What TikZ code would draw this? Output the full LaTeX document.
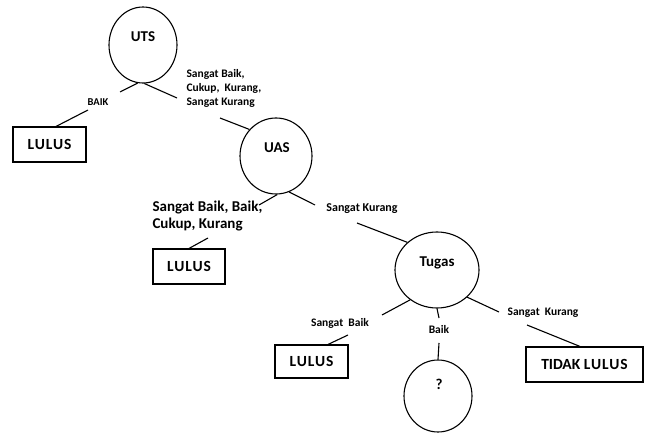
\documentclass[tikz,border=0pt]{standalone}
\usepackage{fontspec}
\setmainfont{Carlito}
\usetikzlibrary{shapes.geometric}
\newcommand{\lulusword}{L\kern0.8pt U\kern0.8pt L\kern0.8pt U\kern0.8pt S}
\begin{document}
\begin{tikzpicture}[x=1pt,y=-1pt,
  every path/.style={line width=1.1pt},
  circ/.style={draw,ellipse,inner sep=0pt},
  box/.style={draw,rectangle,inner sep=0pt,font=\fontsize{15.5}{17}\selectfont\bfseries},
  ntext/.style={font=\fontsize{15}{17}\selectfont\bfseries,inner sep=0pt},
  lbl/.style={font=\fontsize{11.5}{14}\selectfont\bfseries,inner sep=0pt,align=left},
  big/.style={font=\fontsize{15}{17}\selectfont\bfseries,inner sep=0pt,align=left}]
\useasboundingbox (0,0) rectangle (650,435);
% circles
\node[circ,minimum width=68pt,minimum height=76pt] (uts) at (143,45) {};
\node[ntext] (utst) at (143,37) {UTS};
\node[circ,minimum width=72pt,minimum height=76pt] (uas) at (276,156) {};
\node[ntext] (uast) at (277,148) {UAS};
\node[circ,minimum width=84pt,minimum height=76pt] (tugas) at (437,270) {};
\node[ntext] (tugast) at (437,263) {Tugas};
\node[circ,minimum width=68pt,minimum height=72pt] (q) at (438,396) {};
\node[ntext] (qt) at (439,384) {?};
% boxes
\node[box,minimum width=73pt,minimum height=35pt] (l1) at (49.5,144.5) {\lulusword};
\node[box,minimum width=72pt,minimum height=35pt] (l2) at (189,266.5) {\lulusword};
\node[box,minimum width=73pt,minimum height=33pt] (l3) at (311.5,361.5) {\lulusword};
\node[box,minimum width=117pt,minimum height=35pt] (tl) at (584.5,364.5) {TIDAK\ \lulusword};
% labels
\node[lbl,font=\fontsize{10.5}{12}\selectfont\bfseries] (baik1) at (98,102) {BAIK};
\node[lbl,anchor=north west] (sb1) at (186,69) {Sangat Baik,\\Cukup,~ Kurang,\\Sangat Kurang};
\node[big,anchor=north west] (sb2) at (152,200) {Sangat Baik, Baik,\\Cukup, Kurang};
\node[lbl,font=\fontsize{12}{14}\selectfont\bfseries] (sk1) at (362,209) {Sangat Kurang};
\node[lbl] (sb3) at (340,323) {Sangat~ Baik};
\node[lbl] (baik2) at (439,330) {Baik};
\node[lbl] (sk2) at (543,313) {Sangat~ Kurang};
% coordinates
\coordinate (a1) at (120,92);
\coordinate (a2) at (88,110);
\coordinate (b1) at (177,98);
\coordinate (b2) at (220,118);
\coordinate (c1) at (259,205);
\coordinate (c2) at (208,238);
\coordinate (d1) at (315,205);
\coordinate (d2) at (357,223);
\coordinate (e1) at (382,315);
\coordinate (e2) at (348,335);
\coordinate (f1) at (439,318);
\coordinate (f2) at (439,343);
\coordinate (g1) at (499,312);
\coordinate (g2) at (527,325);
% connectors
\draw (uts.262) -- (a1);
\draw (a2) -- (l1.north east -| 56,0);
\draw (uts.272) -- (b1);
\draw (b2) -- (uas.135);
\draw (uas.272) -- (c1);
\draw (c2) -- (l2.north);
\draw (uas.290) -- (d1);
\draw (d2) -- (tugas.137);
\draw (tugas.228) -- (e1);
\draw (e2) -- (l3.north -| 328,0);
\draw (tugas.south) -- (f1);
\draw (f2) -- (q.north);
\draw (tugas.318) -- (g1);
\draw (g2) -- (tl.north -| 580,0);
\end{tikzpicture}
\end{document}
